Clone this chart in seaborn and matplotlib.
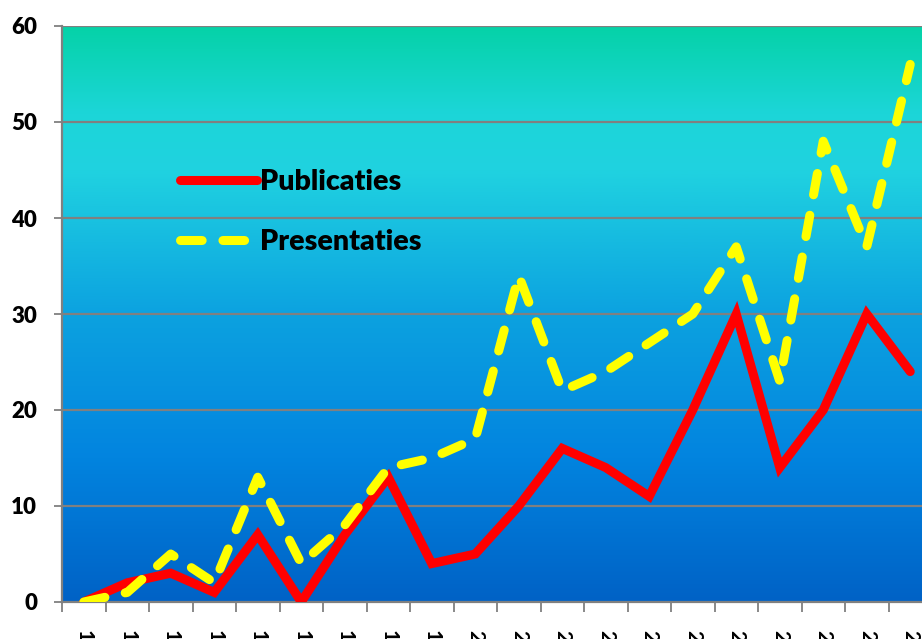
import numpy as np
import pandas as pd
import matplotlib
matplotlib.use("Agg")
import matplotlib.pyplot as plt
from matplotlib.colors import LinearSegmentedColormap
import seaborn as sns

years = [str(y) for y in range(1991, 2011)]
publicaties = [0, 2, 3, 1, 7, 0, 7, 13, 4, 5, 10, 16, 14, 11, 20, 30, 14, 20, 30, 24]
presentaties = [0, 1, 5, 2, 13, 4, 8, 14, 15, 17, 34, 22, 24, 27, 30, 37, 23, 48, 37, 56]

df = pd.DataFrame({"jaar": years, "Publicaties": publicaties, "Presentaties": presentaties})
long_df = df.melt(id_vars="jaar", var_name="soort", value_name="aantal")

sns.set_theme(style="white")
plt.rcParams["font.family"] = ["Lato", "DejaVu Sans"]
plt.rcParams["font.weight"] = "bold"
plt.rcParams["text.color"] = "black"
plt.rcParams["xtick.color"] = "black"
plt.rcParams["ytick.color"] = "black"

fig = plt.figure(figsize=(9.22, 6.39), dpi=100)
ax = fig.add_axes([62 / 922, 1 - 602 / 639, 870 / 922, 576 / 639])

# background gradient (teal at top -> deep blue at bottom)
cmap = LinearSegmentedColormap.from_list(
    "bg",
    [(0.0, "#0062C6"), (0.25, "#0284DF"), (0.5, "#0CA2E0"),
     (0.75, "#20D2E0"), (0.85, "#1CD6D8"), (1.0, "#05D2A8")],
)
grad = np.linspace(0, 1, 256).reshape(-1, 1)
ax.imshow(grad, aspect="auto", cmap=cmap, origin="lower",
          extent=(-0.5, 19.5, 0, 60), zorder=0)

for v in range(10, 61, 10):
    ax.axhline(v, color="#808080", lw=1.6, zorder=1)

sns.lineplot(data=long_df, x="jaar", y="aantal", hue="soort", style="soort",
             palette={"Publicaties": "#FF0000", "Presentaties": "#FFFF00"},
             dashes={"Publicaties": "", "Presentaties": (2.4, 2.3)},
             linewidth=6.5, ax=ax, zorder=3, legend=True)
for line in ax.get_lines():
    line.set_solid_capstyle("round")
    line.set_dash_capstyle("round")
    line.set_solid_joinstyle("miter")

ax.set_xlim(-0.5, 19.5)
ax.set_ylim(0, 60)
ax.set_yticks(range(0, 61, 10))
ax.set_xticks(range(len(years)))
ax.set_xticklabels(years, rotation=270, fontsize=15, fontweight="bold")
ax.set_xticks(np.arange(-0.5, 20, 1), minor=True)
ax.tick_params(axis="x", which="major", length=0, pad=20)
ax.tick_params(axis="x", which="minor", length=7, color="#808080", width=1.3, bottom=True)
ax.tick_params(axis="y", length=6, color="#808080", width=1.3, labelsize=16, pad=12, left=True)
for t in ax.get_yticklabels():
    t.set_fontweight("heavy")
ax.set_xlabel("")
ax.set_ylabel("")

for s in ["top", "right"]:
    ax.spines[s].set_visible(False)
ax.spines["left"].set_color("#808080")
ax.spines["left"].set_linewidth(1.6)
ax.spines["bottom"].set_color("#808080")
ax.spines["bottom"].set_linewidth(1.6)

leg = ax.legend(loc="upper left", bbox_to_anchor=(0.106, 0.797), frameon=False,
                handlelength=2.7, handletextpad=0.1, labelspacing=1.2,
                prop={"size": 20.5, "weight": "heavy"})
for h in leg.get_lines():
    h.set_linewidth(6.5)
    h.set_solid_capstyle("round")
    h.set_dash_capstyle("round")

fig.savefig("out.png", dpi=100)
